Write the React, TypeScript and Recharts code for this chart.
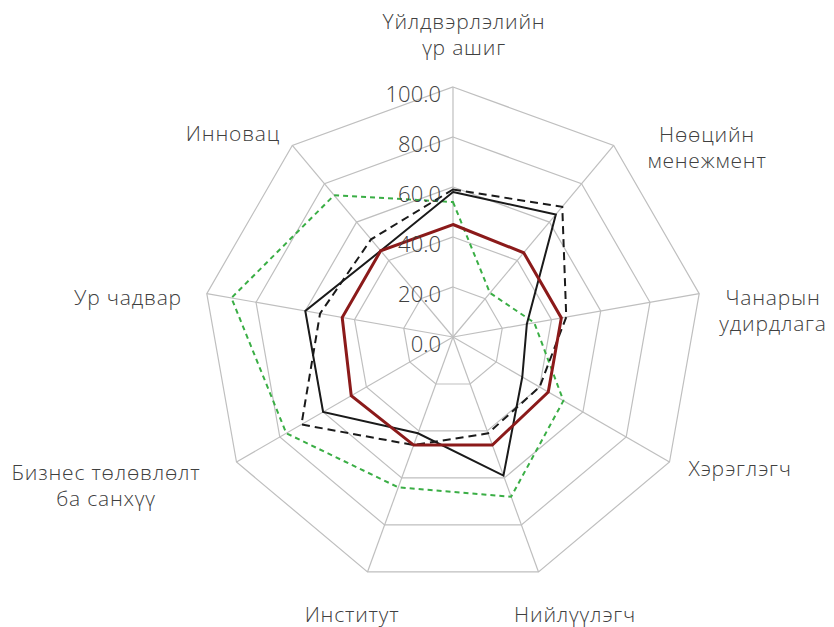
import { RadarChart, Radar, PolarGrid, PolarAngleAxis, PolarRadiusAxis } from 'recharts'

// categories, clockwise from the top
const categories = [
	'Үйлдвэрлэлийн\nүр ашиг',
	'Нөөцийн\nменежмент',
	'Чанарын\nудирдлага',
	'Хэрэглэгч',
	'Нийлүүлэгч',
	'Институт',
	'Бизнес төлөвлөлт\nба санхүү',
	'Ур чадвар',
	'Инновац',
]

const seriesRed = [45, 44, 44, 44, 46, 46, 47, 45, 45]
const seriesSolid = [58, 64, 30, 32, 59, 41, 60, 60, 45]
const seriesDashed = [59, 68, 46, 40, 41, 46, 70, 54, 51]
const seriesGreen = [54, 23, 33, 51, 68, 64, 77, 90, 74]

const radiusTicks = [0, 20, 40, 60, 80, 100]

const data = categories.map((name, i) => ({
	name,
	red: seriesRed[i],
	solid: seriesSolid[i],
	dashed: seriesDashed[i],
	green: seriesGreen[i],
}))

const W = 818
const H = 619
const CX = 445
const CY = 329
const R = 250

// label centres relative to the chart centre
const labelOffset = [
	[11, -303],
	[254, -190],
	[320, -27],
	[287, 131],
	[122, 277],
	[-101, 277],
	[-347, 148],
	[-325, -40],
	[-220, -204],
]

const textColor = '#404040'
const font = '"Open Sans", "Noto Sans", sans-serif'

const AngleTick = (props: any) => {
	const { payload, index } = props
	const lines = String(payload.value).split('\n')
	const [dx, dy] = labelOffset[index] || [0, 0]
	const lh = 26
	const y0 = CY + dy - ((lines.length - 1) * lh) / 2
	return (
		<text
			x={CX + dx}
			y={y0}
			textAnchor='middle'
			dominantBaseline='central'
			fill={textColor}
			fontSize={21}
			fontWeight={300}
			letterSpacing={0.8}
			fontFamily={font}
		>
			{lines.map((l, k) => (
				<tspan key={k} x={CX + dx} y={y0 + k * lh}>
					{l}
				</tspan>
			))}
		</text>
	)
}

const RadiusTick = (props: any) => {
	const { x, y, payload } = props
	return (
		<text
			x={x - 12}
			y={y + 6}
			textAnchor='end'
			dominantBaseline='central'
			fill={textColor}
			fontSize={22}
			fontWeight={300}
			fontFamily={font}
		>
			{Number(payload.value).toFixed(1)}
		</text>
	)
}

export default function App() {
	return (
		<div style={{ width: W, height: H }}>
			<RadarChart width={W} height={H} data={data} cx={CX} cy={CY} outerRadius={R} margin={{ top: 0, right: 0, bottom: 0, left: 0 }}>
				<PolarGrid gridType='polygon' stroke='#bfbfbf' strokeWidth={1.2} polarRadius={radiusTicks.map((t) => (t / 100) * R)} />
				<PolarAngleAxis dataKey='name' tick={<AngleTick />} tickLine={false} axisLine={false} />
				<PolarRadiusAxis
					angle={90}
					domain={[0, 100]}
					ticks={radiusTicks as any}
					tickCount={6}
					tick={<RadiusTick />}
					axisLine={false}
					tickLine={false}
				/>
				<Radar dataKey='green' stroke='#3aae45' strokeWidth={2} strokeDasharray='5 4' fill='none' fillOpacity={0} dot={false} isAnimationActive={false} />
				<Radar dataKey='dashed' stroke='#1a1a1a' strokeWidth={2} strokeDasharray='8 5' fill='none' fillOpacity={0} dot={false} isAnimationActive={false} />
				<Radar dataKey='solid' stroke='#1a1a1a' strokeWidth={2} fill='none' fillOpacity={0} dot={false} isAnimationActive={false} />
				<Radar dataKey='red' stroke='#8b1a1a' strokeWidth={3} fill='none' fillOpacity={0} dot={false} isAnimationActive={false} />
			</RadarChart>
		</div>
	)
}
